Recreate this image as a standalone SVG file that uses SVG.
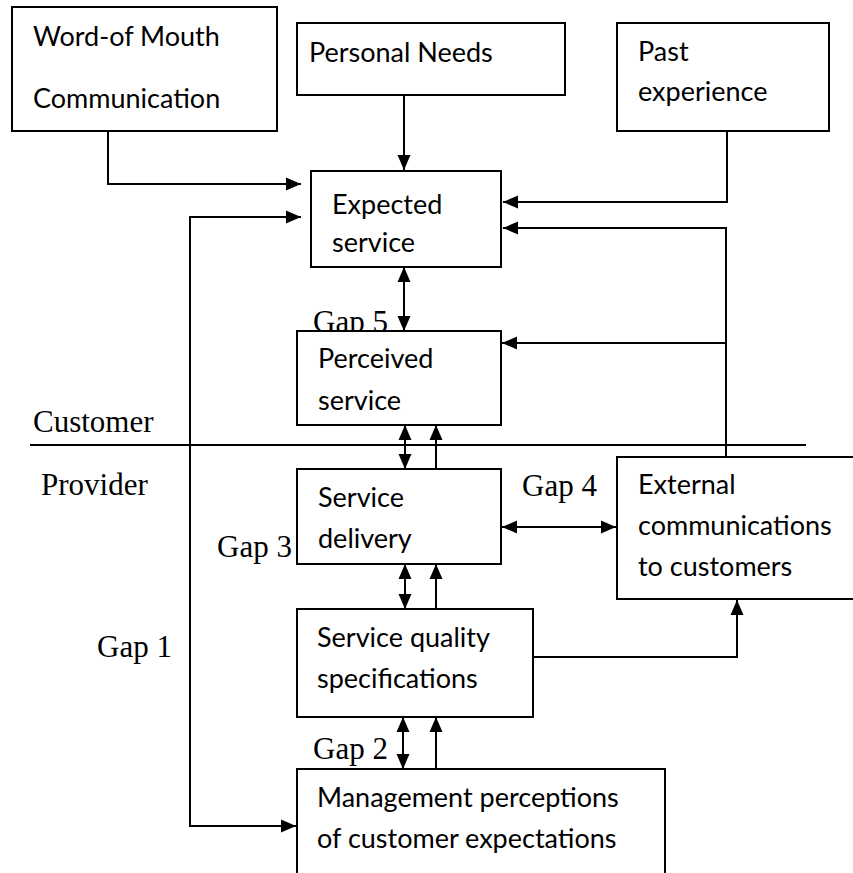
<svg xmlns="http://www.w3.org/2000/svg" width="853" height="873" viewBox="0 0 853 873">
<defs>
<style>
.box{fill:#fff;stroke:#000;stroke-width:2}
.lbl{font-family:Lato,"Liberation Sans",sans-serif;font-size:27px;fill:#000}
.gap{font-family:"Liberation Serif","Times New Roman",serif;font-size:31px;fill:#000}
.con{fill:none;stroke:#000;stroke-width:2}
</style>
<marker id="ah" markerUnits="userSpaceOnUse" markerWidth="16" markerHeight="14" refX="15" refY="6.5" orient="auto-start-reverse" viewBox="0 0 16 13">
<path d="M0,0 L15,6.5 L0,13 z" fill="#000"/>
</marker>
</defs>
<rect width="853" height="873" fill="#fff"/>
<g id="labels">
<text class="gap" x="313" y="332">Gap 5</text>
<text class="gap" x="33" y="432">Customer</text>
<text class="gap" x="41" y="495">Provider</text>
<text class="gap" x="522" y="496">Gap 4</text>
<text class="gap" x="217" y="557">Gap 3</text>
<text class="gap" x="97" y="657">Gap 1</text>
<text class="gap" x="313" y="759">Gap 2</text>
</g>
<g id="connectors">
<path class="con" d="M30,445 H806"/>
<path class="con" d="M108,131 V184 H301" marker-end="url(#ah)"/>
<path class="con" d="M404,95 V170" marker-end="url(#ah)"/>
<path class="con" d="M727,131 V202 H503" marker-end="url(#ah)"/>
<path class="con" d="M726,456 V228 H503" marker-end="url(#ah)"/>
<path class="con" d="M726,343 H502" marker-end="url(#ah)"/>
<path class="con" d="M296,826 H190 V217 H301" marker-start="url(#ah)" marker-end="url(#ah)"/>
<path class="con" d="M404,267 V331" marker-start="url(#ah)" marker-end="url(#ah)"/>
<path class="con" d="M405,425 V469" marker-start="url(#ah)" marker-end="url(#ah)"/>
<path class="con" d="M436,469 V425" marker-end="url(#ah)"/>
<path class="con" d="M405,564 V609" marker-start="url(#ah)" marker-end="url(#ah)"/>
<path class="con" d="M436,609 V564" marker-end="url(#ah)"/>
<path class="con" d="M403,717 V769" marker-start="url(#ah)" marker-end="url(#ah)"/>
<path class="con" d="M436,769 V717" marker-end="url(#ah)"/>
<path class="con" d="M502,527 H616" marker-start="url(#ah)" marker-end="url(#ah)"/>
<path class="con" d="M533,657 H737 V600" marker-end="url(#ah)"/>
</g>
<g id="word-of-mouth">
<rect class="box" x="12" y="7" width="265" height="124"/>
<text class="lbl" x="33" y="46">Word-of Mouth</text>
<text class="lbl" x="33" y="108">Communication</text>
</g>
<g id="personal-needs">
<rect class="box" x="297" y="23" width="268" height="72"/>
<text class="lbl" x="309" y="62">Personal Needs</text>
</g>
<g id="past-experience">
<rect class="box" x="617" y="23" width="212" height="108"/>
<text class="lbl" x="638" y="61">Past</text>
<text class="lbl" x="638" y="101">experience</text>
</g>
<g id="expected-service">
<rect class="box" x="311" y="171" width="190" height="96"/>
<text class="lbl" x="332" y="214">Expected</text>
<text class="lbl" x="332" y="252">service</text>
</g>
<g id="perceived-service">
<rect class="box" x="297" y="331" width="204" height="94"/>
<text class="lbl" x="318" y="368">Perceived</text>
<text class="lbl" x="318" y="410">service</text>
</g>
<g id="service-delivery">
<rect class="box" x="297" y="469" width="204" height="95"/>
<text class="lbl" x="318" y="507">Service</text>
<text class="lbl" x="318" y="548">delivery</text>
</g>
<g id="external-communications">
<rect class="box" x="617" y="457" width="260" height="142"/>
<text class="lbl" x="638" y="494">External</text>
<text class="lbl" x="638" y="535">communications</text>
<text class="lbl" x="638" y="576">to customers</text>
</g>
<g id="service-quality-specifications">
<rect class="box" x="297" y="609" width="236" height="108"/>
<text class="lbl" x="317" y="647">Service quality</text>
<text class="lbl" x="317" y="688">specifications</text>
</g>
<g id="management-perceptions">
<rect class="box" x="297" y="769" width="368" height="120"/>
<text class="lbl" x="317" y="807">Management perceptions</text>
<text class="lbl" x="317" y="848">of customer expectations</text>
</g>
</svg>
